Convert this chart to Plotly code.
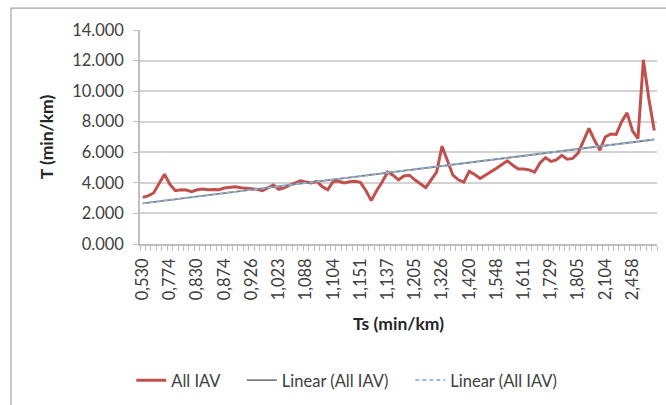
import numpy as np
import plotly.graph_objects as go

# category labels shown on the x axis (every 5th category)
tick_labels = ["0,530", "0,774", "0,830", "0,874", "0,926", "1,023", "1,088", "1,104",
               "1,151", "1,137", "1,205", "1,326", "1,420", "1,548", "1,611", "1,729",
               "1,805", "2,104", "2,458"]

# T (min/km) per category
all_iav = [3.05, 3.15, 3.34, 4.00, 4.57, 3.90, 3.49, 3.55, 3.53, 3.42,
           3.55, 3.60, 3.55, 3.56, 3.55, 3.66, 3.72, 3.75, 3.68, 3.64,
           3.62, 3.58, 3.49, 3.70, 3.86, 3.58, 3.68, 3.85, 4.00, 4.14,
           4.05, 4.00, 4.10, 3.75, 3.55, 4.10, 4.10, 3.99, 4.07, 4.10,
           4.03, 3.50, 2.84, 3.50, 4.05, 4.70, 4.50, 4.20, 4.45, 4.50,
           4.20, 3.95, 3.68, 4.20, 4.70, 6.40, 5.40, 4.50, 4.20, 4.05,
           4.75, 4.55, 4.29, 4.50, 4.72, 4.95, 5.20, 5.44, 5.15, 4.90,
           4.90, 4.85, 4.70, 5.30, 5.65, 5.40, 5.50, 5.80, 5.55, 5.60,
           5.95, 6.70, 7.56, 6.80, 6.13, 7.00, 7.20, 7.17, 8.00, 8.58,
           7.40, 6.90, 12.04, 9.50, 7.43]

n = len(all_iav)
xi = np.arange(n)
label_step = 5
tickvals = list(range(0, n, label_step))[:len(tick_labels)]

# linear trendline of the series
slope, intercept = np.polyfit(xi + 1, all_iav, 1)
trend = slope * (xi + 1) + intercept

FONT = "Lato"
TICK = 16.5
PAD = "\u00a0" * 4
fig = go.Figure()
fig.add_trace(go.Scatter(x=xi, y=all_iav, mode="lines", name="All IAV" + PAD,
                         line=dict(color="#C0504D", width=3)))
fig.add_trace(go.Scatter(x=xi, y=trend, mode="lines", name="Linear (All IAV)" + PAD,
                         line=dict(color="#7F7F7F", width=1.8)))
fig.add_trace(go.Scatter(x=xi, y=trend, mode="lines", name="Linear (All IAV)",
                         line=dict(color="#95B3D7", width=1.8, dash="4px,3px")))

W, H = 666, 405
L, R, T, B = 140, 9, 30, 160

fig.update_layout(
    width=W, height=H,
    margin=dict(l=L, r=R, t=T, b=B),
    paper_bgcolor="white", plot_bgcolor="white",
    font=dict(family=FONT, size=TICK, color="#404040"),
    showlegend=True,
    legend=dict(orientation="h", x=0.40, xanchor="center", y=-0.63, yanchor="middle",
                font=dict(family=FONT, size=16.5, color="#404040"),
                itemwidth=30, tracegroupgap=0),
    xaxis=dict(
        range=[-0.5, n - 0.5],
        tickmode="array", tickvals=tickvals, ticktext=tick_labels,
        tickangle=-90, ticks="", showgrid=False, zeroline=False,
        showline=True, linecolor="#BFBFBF", linewidth=1.5,
        tickfont=dict(family=FONT, size=TICK, color="#404040"),
        ticklabelstandoff=6,
        minor=dict(ticks="outside", tickmode="linear", tick0=-0.5, dtick=1,
                   ticklen=5, tickcolor="#BFBFBF", tickwidth=1, showgrid=False),
        title=dict(text="<b>Ts (min/km)</b>", font=dict(family=FONT, size=17.5, color="#262626"),
                   standoff=18),
    ),
    yaxis=dict(
        range=[0, 14], tickmode="array", tickvals=list(range(0, 15, 2)),
        ticktext=[f"{v}.000" for v in range(0, 15, 2)],
        showgrid=True, gridcolor="#D3D3D3", gridwidth=1.6, zeroline=False,
        showline=True, linecolor="#BFBFBF", linewidth=1.5,
        ticks="outside", ticklen=5, tickcolor="#BFBFBF",
        tickfont=dict(family=FONT, size=TICK, color="#404040"),
        ticklabelstandoff=6,
        title=dict(text="<b>T (min/km)</b>", font=dict(family=FONT, size=17.5, color="#262626"),
                   standoff=14),
    ),
)

# outer chart border
pw, ph = W - L - R, H - T - B
def px2x(px): return (px - L) / pw
def py2y(py): return (H - B - py) / ph
fig.add_shape(type="rect", xref="paper", yref="paper",
              x0=px2x(11), x1=px2x(700), y0=py2y(430), y1=py2y(8),
              line=dict(color="#A6A6A6", width=1.2), fillcolor="rgba(0,0,0,0)", layer="below")

fig.write_html("out.html")
